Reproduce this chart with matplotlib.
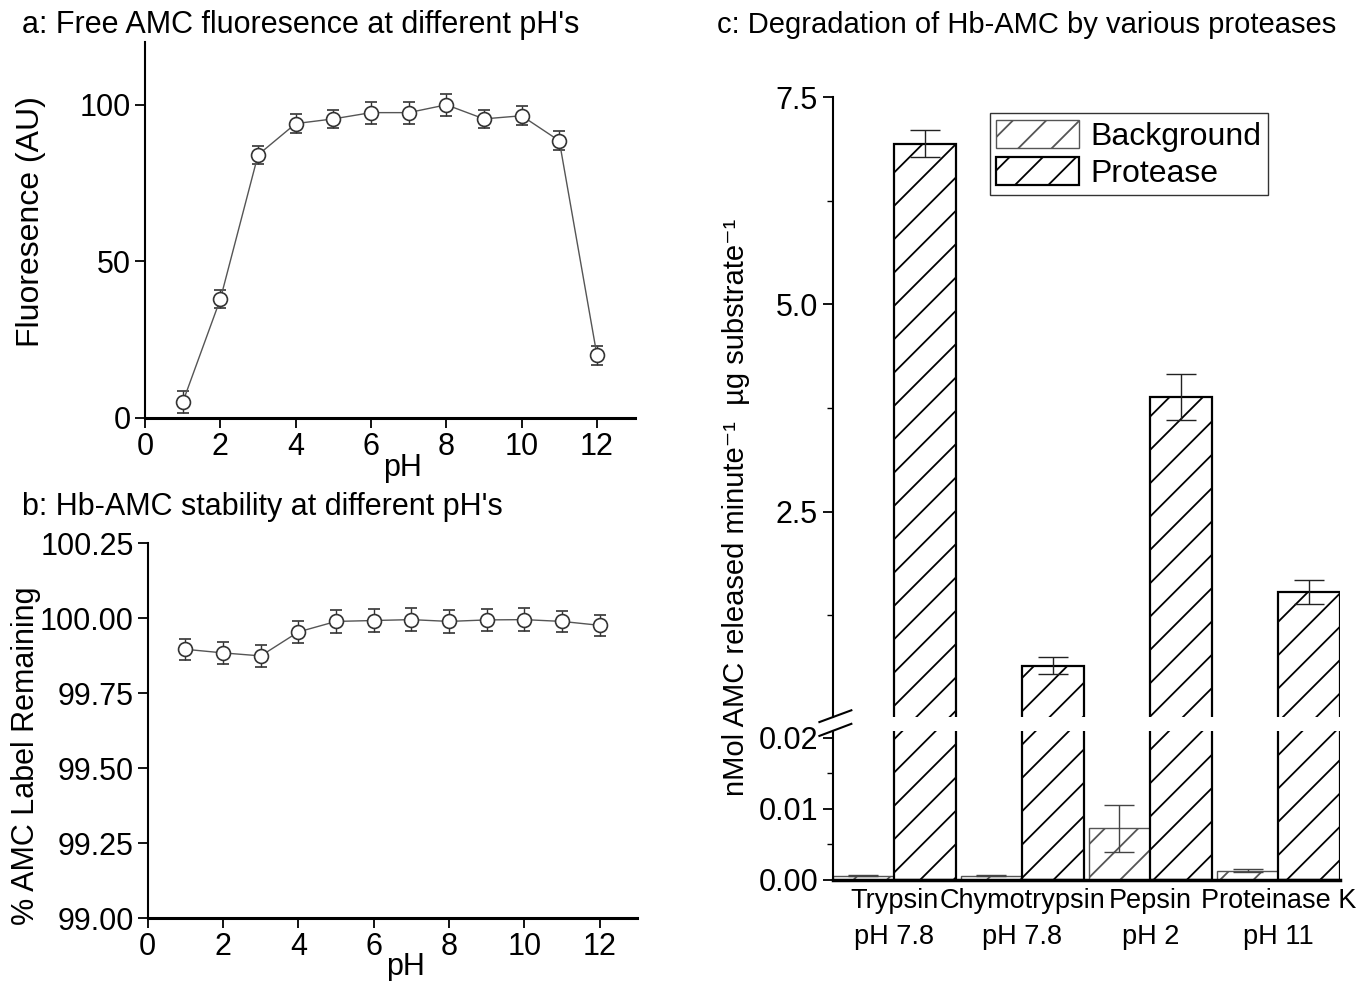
import matplotlib.pyplot as plt
import numpy as np

plt.rcParams['font.family'] = ['Liberation Sans', 'DejaVu Sans']
plt.rcParams['hatch.linewidth'] = 1.3
plt.rcParams['font.size'] = 22

# panel a / b data
ph = [1, 2, 3, 4, 5, 6, 7, 8, 9, 10, 11, 12]
fluor = [5, 38, 84, 94, 95.5, 97.5, 97.5, 100, 95.5, 96.5, 88.5, 20]
fluor_err = [3.5, 3, 3, 3, 3, 3.5, 3.5, 3.5, 3, 3, 3, 3]
label_left = [99.897, 99.885, 99.875, 99.955, 99.99, 99.993, 99.996, 99.99, 99.995, 99.996, 99.99, 99.977]
label_err = [0.036, 0.036, 0.036, 0.036, 0.038, 0.038, 0.038, 0.038, 0.038, 0.038, 0.036, 0.036]

# panel c data
proteases = ['Trypsin\npH 7.8', 'Chymotrypsin\npH 7.8', 'Pepsin\npH 2', 'Proteinase K\npH 11']
background = [0.0006, 0.0006, 0.0073, 0.0013]
background_err = [0.0001, 0.0001, 0.0033, 0.0002]
protease = [6.94, 0.64, 3.88, 1.53]
protease_err = [0.16, 0.10, 0.28, 0.15]

fig = plt.figure(figsize=(13.56, 9.81), dpi=100)


def style_line_axes(ax):
    for s in ['top', 'right']:
        ax.spines[s].set_visible(False)
    ax.spines['left'].set_linewidth(1.5)
    ax.spines['bottom'].set_linewidth(2.2)
    ax.tick_params(direction='out', length=7, width=1.3, labelsize=22, pad=3)


ax_a = fig.add_axes([0.107, 0.574, 0.361, 0.383])
ax_a.errorbar(ph, fluor, yerr=fluor_err, color='#555555', lw=1.0, marker='o', ms=10,
              mfc='white', mec='#333333', mew=1.2, ecolor='#333333', elinewidth=1.0,
              capsize=4, capthick=1.0)
ax_a.set_xlim(0, 13)
ax_a.set_ylim(0, 120)
ax_a.set_xticks([0, 2, 4, 6, 8, 10, 12])
ax_a.set_yticks([0, 50, 100])
style_line_axes(ax_a)

ax_b = fig.add_axes([0.109, 0.064, 0.361, 0.382])
ax_b.errorbar(ph, label_left, yerr=label_err, color='#555555', lw=1.0, marker='o', ms=10,
              mfc='white', mec='#333333', mew=1.2, ecolor='#333333', elinewidth=1.0,
              capsize=4, capthick=1.0)
ax_b.set_xlim(0, 13)
ax_b.set_ylim(99.0, 100.25)
ax_b.set_xticks([0, 2, 4, 6, 8, 10, 12])
ax_b.set_yticks([99.0, 99.25, 99.5, 99.75, 100.0, 100.25])
ax_b.set_yticklabels(['%.2f' % v for v in [99.0, 99.25, 99.5, 99.75, 100.0, 100.25]])
style_line_axes(ax_b)

fig.text(0.016, 0.975, "a: Free AMC fluoresence at different pH's", fontsize=22, va='center')
fig.text(0.016, 0.483, "b: Hb-AMC stability at different pH's", fontsize=22, va='center')
fig.text(0.023, 0.774, 'Fluoresence (AU)', rotation=90, fontsize=23, ha='center', va='center')
fig.text(0.019, 0.230, '% AMC Label Remaining', rotation=90, fontsize=22, ha='center', va='center')
fig.text(0.297, 0.523, 'pH', fontsize=22, ha='center', va='center')
fig.text(0.299, 0.014, 'pH', fontsize=22, ha='center', va='center')

# panel c: broken axis
x = np.arange(len(proteases))
w = 0.48
ax_up = fig.add_axes([0.614, 0.269, 0.374, 0.632])
ax_lo = fig.add_axes([0.614, 0.103, 0.374, 0.152])

bg_bars = ax_lo.bar(x - w / 2, background, w, color='white', edgecolor='#555555', hatch='/',
                    linewidth=1.0, label='Background')
ax_lo.errorbar(x - w / 2, background, yerr=background_err, fmt='none', ecolor='#444444',
               elinewidth=1.0, capsize=11, capthick=1.0)
for ax in [ax_up, ax_lo]:
    pr_bars = ax.bar(x + w / 2, protease, w, color='white', edgecolor='black', hatch='/',
                     linewidth=1.6, label='Protease')
    ax.errorbar(x + w / 2, protease, yerr=protease_err, fmt='none', ecolor='#222222',
                elinewidth=1.0, capsize=11, capthick=1.0)
    ax.set_xlim(-0.48, 3.48)
    ax.spines['right'].set_visible(False)
    ax.spines['left'].set_linewidth(1.5)
    ax.tick_params(axis='y', which='major', direction='out', length=7, width=1.3, labelsize=22)
    ax.tick_params(axis='y', which='minor', direction='out', length=4, width=1.0)

ax_up.set_ylim(0.02, 7.5)
ax_up.set_yticks([2.5, 5.0, 7.5])
ax_up.set_yticklabels(['2.5', '5.0', '7.5'])
ax_up.set_yticks([1.25, 3.75, 6.25], minor=True)
ax_up.spines['top'].set_visible(False)
ax_up.spines['bottom'].set_visible(False)
ax_up.set_xticks([])

ax_lo.set_ylim(0, 0.021)
ax_lo.set_yticks([0.0, 0.01, 0.02])
ax_lo.set_yticklabels(['0.00', '0.01', '0.02'])
ax_lo.set_yticks([0.005, 0.015], minor=True)
ax_lo.spines['top'].set_visible(False)
ax_lo.spines['bottom'].set_linewidth(2.5)
ax_lo.set_xticks(x)
ax_lo.set_xticklabels(proteases, fontsize=19.5, linespacing=1.5)
ax_lo.tick_params(axis='x', length=0, pad=6)

# break marks
ax_up.plot([-0.026, 0.037], [-0.008, 0.011], transform=ax_up.transAxes, color='black',
           lw=1.5, clip_on=False)
ax_lo.plot([-0.026, 0.037], [0.966, 1.047], transform=ax_lo.transAxes, color='black',
           lw=1.5, clip_on=False)

leg = ax_up.legend([bg_bars, pr_bars], ['Background', 'Protease'], loc='upper left',
                   bbox_to_anchor=(0.31, 0.974), fontsize=23,
                   fancybox=False, edgecolor='#333333', framealpha=1, borderaxespad=0,
                   handlelength=2.6, handleheight=1.0, handletextpad=0.35,
                   borderpad=0.2, labelspacing=0.15)
leg.get_frame().set_linewidth(1.0)

fig.text(0.529, 0.975, 'c: Degradation of Hb-AMC by various proteases', fontsize=21, va='center')
fig.text(0.543, 0.483, 'nMol AMC released minute\u207b\u00b9  \u00b5g substrate\u207b\u00b9',
         rotation=90, fontsize=21, ha='center', va='center')

fig.savefig('out.png', dpi=100)
